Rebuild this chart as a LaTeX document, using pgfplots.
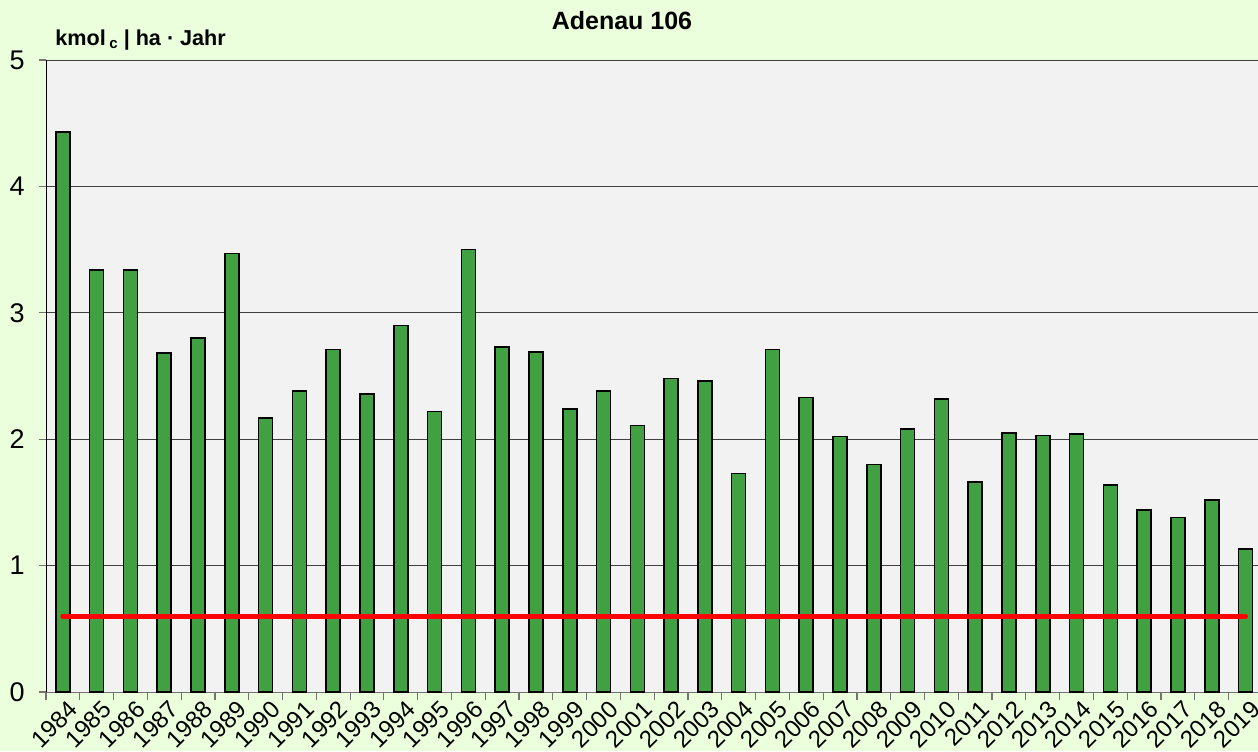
\documentclass[border=0pt]{standalone}
\usepackage{pgfplots}
\pgfplotsset{compat=1.18}
\usepackage{fontspec}
\setmainfont{Liberation Sans}
\definecolor{bg}{HTML}{EBFFDC}
\definecolor{plotbg}{HTML}{F2F2F2}
\definecolor{bargreen}{HTML}{41A041}
\begin{document}
\begin{tikzpicture}
\useasboundingbox[fill=bg] (-23pt,-29.5pt) rectangle (606pt,346pt);
\begin{axis}[
  at={(0pt,0pt)}, anchor=south west,
  scale only axis, width=606pt, height=316pt,
  xmin=-0.5, xmax=35.37, ymin=0, ymax=5,
  axis background/.style={fill=plotbg},
  axis lines=left,
  axis line style={-},
  x axis line style={draw=black!55},
  y axis line style={draw=black},
  ybar, bar width=7pt,
  xtick={0,...,35},
  xticklabels={1984,1985,1986,1987,1988,1989,1990,1991,1992,1993,1994,1995,1996,1997,1998,1999,2000,2001,2002,2003,2004,2005,2006,2007,2008,2009,2010,2011,2012,2013,2014,2015,2016,2017,2018,2019},
  major x tick style={draw=none},
  minor xtick={-0.5,0.5,...,35.5},
  minor x tick style={draw=black!55, line width=0.6pt},
  minor tick length=4pt,
  ytick={0,1,2,3,4,5},
  major y tick style={draw=black!55, line width=0.6pt},
  major tick length=3.5pt,
  tick align=outside,
  ymajorgrids,
  major grid style={draw=black!75, line width=0.5pt},
  /pgf/number format/assume math mode=true,
  xticklabel style={rotate=45, anchor=east, inner sep=0pt, xshift=1.5pt, yshift=-6pt, font=\fontsize{12}{13}\selectfont},
  yticklabel style={font=\fontsize{13.5}{15}\selectfont, inner sep=0pt, xshift=-7pt},
  clip=false,
]
\addplot[fill=bargreen, draw=black, line width=0.8pt] coordinates {
(0,4.43) (1,3.34) (2,3.34) (3,2.68) (4,2.80) (5,3.47) (6,2.17) (7,2.38) (8,2.71) (9,2.36)
(10,2.90) (11,2.22) (12,3.50) (13,2.73) (14,2.69) (15,2.24) (16,2.38) (17,2.11) (18,2.48) (19,2.46)
(20,1.73) (21,2.71) (22,2.33) (23,2.02) (24,1.80) (25,2.08) (26,2.32) (27,1.66) (28,2.05) (29,2.03)
(30,2.04) (31,1.64) (32,1.44) (33,1.38) (34,1.52) (35,1.13)
};
\addplot[sharp plot, red, line width=2.5pt, line cap=round, mark=none, forget plot] coordinates {(0,0.6) (35,0.6)};
\end{axis}
\node[font=\fontsize{12.5}{14}\selectfont\bfseries] at (288pt,335.5pt) {Adenau 106};
\node[anchor=west, font=\fontsize{10.8}{12}\selectfont\bfseries, inner sep=0pt] at (4.5pt,326pt) {kmol\,{\fontsize{7.5}{8}\selectfont\raisebox{-1.5pt}{c}} | ha · Jahr};
\end{tikzpicture}
\end{document}
